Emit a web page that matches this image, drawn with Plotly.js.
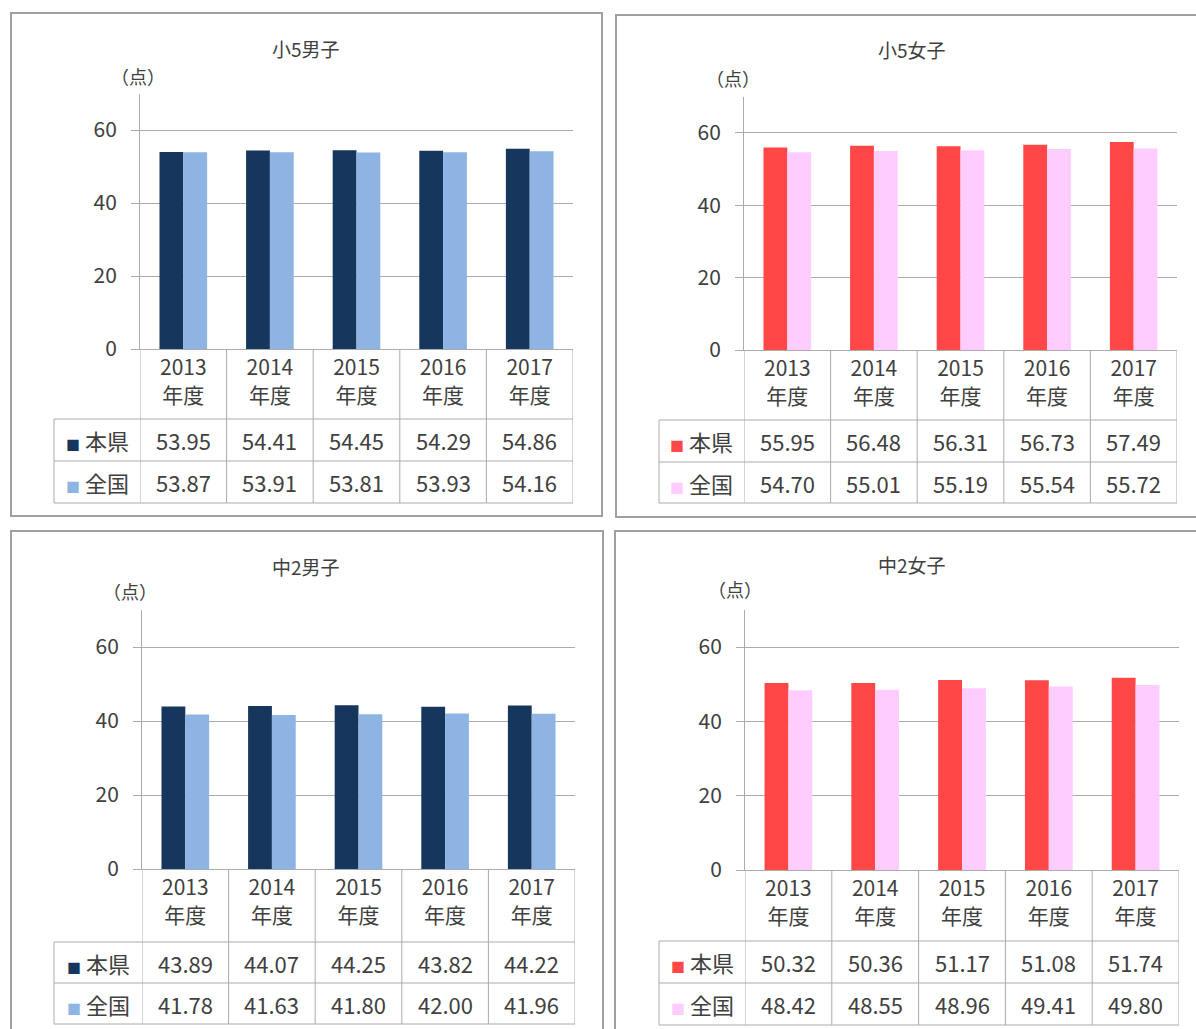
<!DOCTYPE html>
<html>
<head>
<meta charset="utf-8">
<script src="https://cdn.plot.ly/plotly-3.0.1.min.js"></script>
<style>
html,body{margin:0;padding:0;background:#fff;}
#chart{width:1196px;height:1029px;}
</style>
</head>
<body>
<div id="chart"></div>
<script>
// ---- data ----
const years = ['2013', '2014', '2015', '2016', '2017'];
const yearSuffix = '年度';
const seriesNames = ['本県', '全国'];
const panelTitles = ['小5男子', '小5女子', '中2男子', '中2女子'];
const unitLabel = '（点）';
const yTickValues = [0, 20, 40, 60];

const shou5BoysPref = [53.95, 54.41, 54.45, 54.29, 54.86];
const shou5BoysNat  = [53.87, 53.91, 53.81, 53.93, 54.16];
const shou5GirlsPref = [55.95, 56.48, 56.31, 56.73, 57.49];
const shou5GirlsNat  = [54.70, 55.01, 55.19, 55.54, 55.72];
const chu2BoysPref = [43.89, 44.07, 44.25, 43.82, 44.22];
const chu2BoysNat  = [41.78, 41.63, 41.80, 42.00, 41.96];
const chu2GirlsPref = [50.32, 50.36, 51.17, 51.08, 51.74];
const chu2GirlsNat  = [48.42, 48.55, 48.96, 49.41, 49.80];

// ---- styling / layout ----
const W = 1196, H = 1029;
const px = x => x / W;
const py = y => 1 - y / H;
const FONT = '"Noto Sans CJK JP", "Noto Sans", sans-serif';
const TXT = '#404040';
const GRID = '#ABABAB';
const FRAME = '#A0A0A0';
const navy = '#17365D', lightBlue = '#8DB4E2', red = '#FF4747', pink = '#FFCCFF';

const panels = [
  {title: panelTitles[0], pref: shou5BoysPref, nat: shou5BoysNat, colors: [navy, lightBlue],
   xL: 140, xR: 573, y0: 349, yTop: 93.5, tL: 54, hb: 419, rs: 461, tb: 503,
   frame: [11, 13, 602, 516], tx: 306, ty: 48, ux: 138, uy: 76},
  {title: panelTitles[1], pref: shou5GirlsPref, nat: shou5GirlsNat, colors: [red, pink],
   xL: 744, xR: 1177, y0: 350, yTop: 96.8, tL: 659, hb: 420, rs: 462, tb: 503,
   frame: [616, 15, 1205, 517], tx: 912, ty: 50, ux: 733, uy: 78},
  {title: panelTitles[2], pref: chu2BoysPref, nat: chu2BoysNat, colors: [navy, lightBlue],
   xL: 142, xR: 575, y0: 869, yTop: 610, tL: 54, hb: 942, rs: 983, tb: 1024,
   frame: [11, 531, 603, 1040], tx: 306, ty: 566, ux: 130, uy: 591},
  {title: panelTitles[3], pref: chu2GirlsPref, nat: chu2GirlsNat, colors: [red, pink],
   xL: 745, xR: 1179, y0: 870, yTop: 610, tL: 659, hb: 941, rs: 983, tb: 1025,
   frame: [615, 531, 1205, 1040], tx: 912, ty: 564, ux: 735, uy: 589}
];

const data = [];
const shapes = [];
const annotations = [];
const layout = {
  width: W, height: H,
  margin: {l: 0, r: 0, t: 0, b: 0},
  paper_bgcolor: '#fff', plot_bgcolor: 'rgba(0,0,0,0)',
  showlegend: false,
  barmode: 'group', bargap: 0.45, bargroupgap: 0,
  font: {family: FONT, color: TXT, size: 20},
  shapes: shapes, annotations: annotations
};

panels.forEach((p, i) => {
  const n = i === 0 ? '' : String(i + 1);
  const xa = 'x' + n, ya = 'y' + n;
  const xKey = 'xaxis' + n, yKey = 'yaxis' + n;

  [p.pref, p.nat].forEach((vals, k) => {
    data.push({
      type: 'bar', x: years, y: vals, name: seriesNames[k],
      xaxis: xa, yaxis: ya,
      marker: {color: p.colors[k], line: {width: 0}},
      hoverinfo: 'skip'
    });
  });

  layout[xKey] = {
    domain: [px(p.xL), px(p.xR)], anchor: ya, type: 'category',
    range: [-0.5, 4.5], fixedrange: true,
    tickvals: years, ticktext: years.map(y => y + '<br>' + yearSuffix),
    tickfont: {family: FONT, size: 21, color: TXT},
    ticks: '', showgrid: false, zeroline: false,
    showline: true, linecolor: GRID, linewidth: 1
  };
  layout[yKey] = {
    domain: [py(p.y0), py(p.yTop)], anchor: xa,
    range: [0, 70], tickvals: yTickValues, fixedrange: true,
    tickfont: {family: FONT, size: 21, color: TXT},
    ticks: 'outside', ticklen: 8, tickcolor: GRID, tickwidth: 1,
    ticklabelstandoff: 10,
    showgrid: true, gridcolor: GRID, gridwidth: 1, zeroline: false,
    showline: true, linecolor: GRID, linewidth: 1
  };

  // frame
  shapes.push({type: 'rect', xref: 'paper', yref: 'paper', layer: 'below',
    x0: px(p.frame[0]), x1: px(p.frame[2]), y0: py(p.frame[1]), y1: py(p.frame[3]),
    line: {color: FRAME, width: 2}, fillcolor: 'rgba(0,0,0,0)'});

  // data table lines
  for (let c = -0.5; c <= 4.5; c += 1) {
    shapes.push({type: 'line', xref: xa, yref: 'paper', x0: c, x1: c,
      y0: py(p.y0), y1: py(p.tb), line: {color: GRID, width: 1}});
  }
  [p.hb, p.rs, p.tb].forEach(yy => {
    shapes.push({type: 'line', xref: 'paper', yref: 'paper', x0: px(p.tL), x1: px(p.xR),
      y0: py(yy), y1: py(yy), line: {color: GRID, width: 1}});
  });
  shapes.push({type: 'line', xref: 'paper', yref: 'paper', x0: px(p.tL), x1: px(p.tL),
    y0: py(p.hb), y1: py(p.tb), line: {color: GRID, width: 1}});

  // titles
  annotations.push({text: p.title, xref: 'paper', yref: 'paper', x: px(p.tx), y: py(p.ty),
    showarrow: false, xanchor: 'center', yanchor: 'middle',
    font: {family: FONT, size: 19, color: TXT}});
  annotations.push({text: unitLabel, xref: 'paper', yref: 'paper', x: px(p.ux), y: py(p.uy),
    showarrow: false, xanchor: 'center', yanchor: 'middle',
    font: {family: FONT, size: 18, color: TXT}});

  // table rows
  const rowY = [(p.hb + p.rs) / 2, (p.rs + p.tb) / 2];
  [p.pref, p.nat].forEach((vals, k) => {
    annotations.push({
      text: '<span style="color:' + p.colors[k] + ';font-size:14px">■</span> ' + seriesNames[k],
      xref: 'paper', yref: 'paper', x: px((p.tL + p.xL) / 2), y: py(rowY[k]),
      showarrow: false, xanchor: 'center', yanchor: 'middle',
      font: {family: FONT, size: 22, color: TXT}});
    vals.forEach((v, j) => {
      annotations.push({text: v.toFixed(2), xref: xa, yref: 'paper', x: j, y: py(rowY[k]),
        showarrow: false, xanchor: 'center', yanchor: 'middle',
        font: {family: FONT, size: 22, color: TXT}});
    });
  });
});

Plotly.newPlot('chart', data, layout, {staticPlot: true, displayModeBar: false});
</script>
</body>
</html>
